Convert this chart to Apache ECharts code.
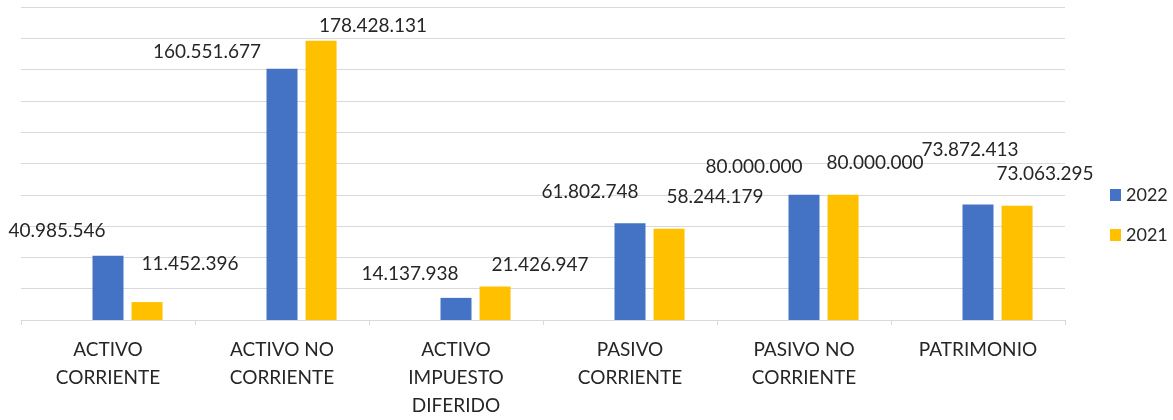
<!DOCTYPE html>
<html>
<head>
<meta charset="utf-8">
<script src="https://cdn.jsdelivr.net/npm/echarts@6/dist/echarts.min.js"></script>
<style>
html,body{margin:0;padding:0;background:#fff;}
#chart{width:1173px;height:420px;}
</style>
</head>
<body>
<div id="chart"></div>
<script>
// ---- data ----
const categories = ['ACTIVO\nCORRIENTE', 'ACTIVO NO\nCORRIENTE', 'ACTIVO\nIMPUESTO\nDIFERIDO', 'PASIVO\nCORRIENTE', 'PASIVO NO\nCORRIENTE', 'PATRIMONIO'];
const values2022 = [40985546, 160551677, 14137938, 61802748, 80000000, 73872413];
const values2021 = [11452396, 178428131, 21426947, 58244179, 80000000, 73063295];
const seriesNames = ['2022', '2021'];

// label offsets (pixels, relative to the top-centre of each bar) — as placed in the original
const offsets2022 = [[-51, -25], [-75, -17], [-46, -24], [-40, -31], [-50, -28], [-8, -55]];
const offsets2021 = [[43, -38], [52, -15], [45, -22], [46, -32], [32, -32], [28, -32]];

function fmt(v) {
  return String(v).replace(/\B(?=(\d{3})+(?!\d))/g, '.');
}

const FONT = 'Lato, "Open Sans", sans-serif';

function buildData(values, offsets) {
  return values.map((v, i) => ({
    value: v,
    label: { offset: offsets[i] }
  }));
}

const labelBase = {
  show: true,
  position: ['50%', 0],
  align: 'center',
  verticalAlign: 'middle',
  fontFamily: FONT,
  fontSize: 19,
  color: '#262626',
  formatter: p => fmt(p.value)
};

const chart = echarts.init(document.getElementById('chart'), null, { renderer: 'canvas' });
chart.setOption({
  animation: false,
  backgroundColor: '#ffffff',
  grid: { left: 21, right: 108, top: 7, bottom: 95, containLabel: false },
  legend: {
    orient: 'vertical',
    left: 1105,
    top: 180,
    data: seriesNames,
    icon: 'rect',
    itemWidth: 11,
    itemHeight: 12,
    itemGap: 20,
    textStyle: { fontFamily: FONT, fontSize: 18, color: '#262626', lineHeight: 20 }
  },
  xAxis: {
    type: 'category',
    data: categories,
    axisLine: { show: true, lineStyle: { color: '#d9d9d9', width: 1 } },
    axisTick: { show: true, length: 5, lineStyle: { color: '#d9d9d9' } },
    axisLabel: {
      interval: 0,
      margin: 16,
      fontFamily: FONT,
      fontSize: 19,
      lineHeight: 28,
      color: '#262626'
    }
  },
  yAxis: {
    type: 'value',
    min: 0,
    max: 200000000,
    interval: 20000000,
    axisLabel: { show: false },
    axisLine: { show: false },
    axisTick: { show: false },
    splitLine: { show: true, lineStyle: { color: '#d9d9d9', width: 1 } }
  },
  series: [
    {
      name: '',
      type: 'bar',
      data: categories.map(() => null),
      barWidth: 31,
      barGap: '26%',
      itemStyle: { color: 'rgba(0,0,0,0)' }
    },
    {
      name: seriesNames[0],
      type: 'bar',
      data: buildData(values2022, offsets2022),
      barWidth: 31,
      barGap: '26%',
      itemStyle: { color: '#4472C4' },
      label: labelBase
    },
    {
      name: seriesNames[1],
      type: 'bar',
      data: buildData(values2021, offsets2021),
      barWidth: 31,
      barGap: '26%',
      itemStyle: { color: '#FFC000' },
      label: labelBase
    }
  ]
});
</script>
</body>
</html>
